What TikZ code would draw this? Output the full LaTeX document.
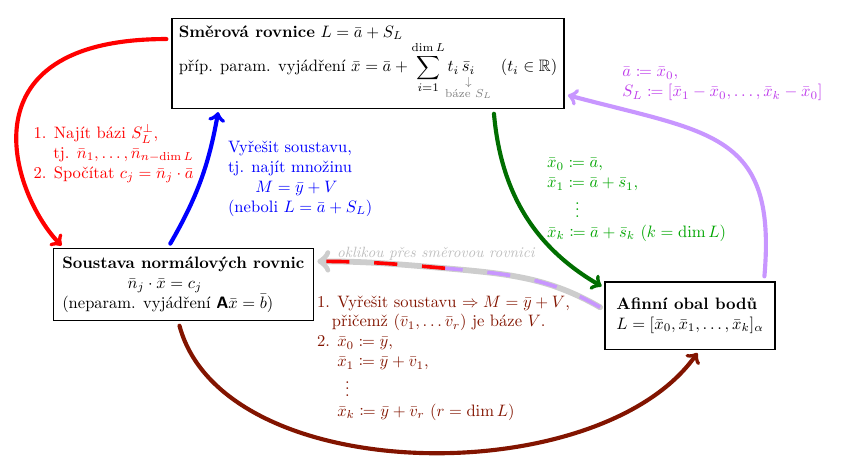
\documentclass[tikz,border=0pt]{standalone}
\usepackage{mathtools}
\usepackage{amssymb}
\usepackage{xcolor}
\usepackage{tikz}
\usetikzlibrary{arrows,calc}

\definecolor{tmavocervena}{RGB}{130,20,0}
\definecolor{zelenatext}{RGB}{0,165,0}
\definecolor{zelena}{RGB}{0,110,0}
\definecolor{fialovatext}{RGB}{190,60,235}
\definecolor{fialova}{RGB}{200,150,255}
\definecolor{seda}{RGB}{205,205,205}

\begin{document}
\begin{tikzpicture}[
        box/.style={draw,thick,align=left,inner sep=0pt},
        popis/.style={anchor=north west,align=left,inner sep=0pt},
        sipka/.style={->,line width=2.5pt,line cap=round,shorten >=2pt,shorten <=3pt},
        carky/.style={line width=2.2pt,dash pattern=on 14pt off 15pt}]
        \useasboundingbox (0,0) rectangle (18.09,10.06);
        % tri popisy soustav
        \node[box,minimum width=8.334cm,minimum height=1.913cm] (smer) at (7.824,8.717)
            {\textbf{Směrová rovnice} $L=\bar a+S_L$\\
             příp. param. vyjádření $\bar x=\bar a+\displaystyle\sum_{i=1}^{\dim L} t_i\,\underset{\color{gray}\substack{\downarrow\\ \mathclap{\text{báze }S_L}}}{\bar s_i}\quad\;\;(t_i\in\mathbb{R})$};
        \node[box,minimum width=5.528cm,minimum height=1.524cm] (norm) at (3.897,4.014)
            {\textbf{Soustava normálových rovnic}\\
             \hspace*{39.5pt}$\bar n_j\cdot\bar x=c_j$\\
             (neparam. vyjádření $\textsf{\textbf{A}}\bar x=\bar b$)};
        \node[box,minimum width=3.614cm,minimum height=1.437cm] (afin) at (14.669,3.348)
            {\textbf{Afinní obal bodů}\\
             $L=[\bar x_0,\bar x_1,\dots,\bar x_k]_\alpha$};
        % prechody
        \node[popis,red] (smer2norm) at (0.708,7.420)
            {1. Najít bázi $S_L^\perp$,\\
             \hspace*{12pt}tj. $\bar n_1,\dots,\bar n_{n-\dim L}$\\
             2. Spočítat $c_j=\bar n_j\cdot\bar a$};
        \node[popis,blue] (norm2smer) at (4.841,7.058)
            {Vyřešit soustavu,\\
             tj. najít množinu\\
             \hspace*{16.5pt}$M=\bar y+V$\\
             (neboli $L=\bar a+S_L$)};
        \node[popis,zelenatext] (smer2afin) at (11.623,6.697)
            {$\bar x_0\coloneqq\bar a$,\\
             $\bar x_1\coloneqq\bar a+\bar s_1$,\\
             \hspace*{17pt}$\vdots$\\
             $\bar x_k\coloneqq\bar a+\bar s_k$ ($k=\dim L$)};
        \node[popis,fialovatext] (afin2smer) at (13.224,8.632)
            {$\bar a\coloneqq\bar x_0$,\\
             $S_L\coloneqq[\bar x_1-\bar x_0,\dots,\bar x_k-\bar x_0]$};
        \node[popis,tmavocervena] (norm2afin) at (6.733,3.784)
            {1. Vyřešit soustavu $\Rightarrow M=\bar y+V$,\\
             \hspace*{9pt}přičemž $(\bar v_1,\dots\bar v_r)$ je báze $V$.\\
             2. $\bar x_0\coloneqq\bar y$,\\
             \phantom{2. }$\bar x_1\coloneqq\bar y+\bar v_1$,\\
             \hspace*{17pt}$\vdots$\\
             \phantom{2. }$\bar x_k\coloneqq\bar y+\bar v_r$ ($r=\dim L$)};
        \coordinate (okl) at (9.461,4.358);
        \node[anchor=base,black!25,inner sep=0pt] (oklikou) at (9.265,4.577) {\small\itshape oklikou přes směrovou rovnici};
        % sipky
        \draw[sipka,red] (smer.173) to[out=180,in=135,out distance=4.57cm,in distance=1.5cm] (norm.163);
        \draw[sipka,blue] (norm.113) to[out=60,in=-100] (smer.197);
        \draw[sipka,zelena] (smer.340) to[out=-85,in=150] (afin.162);
        \draw[sipka,fialova] (afin.25) to[out=85,in=-15,out distance=3.2cm,in distance=3.2cm] (smer.351);
        \draw[sipka,tmavocervena] (norm.262) to[out=-75,in=-125,looseness=0.85] (afin.285);
        \draw[sipka,seda,line width=3.5pt] (afin.176) to[out=150,in=-5] (okl) to[out=175,in=0] (norm.10);
        \draw[carky,fialova,shorten <=3pt] (afin.176) to[out=150,in=-5] (okl);
        \draw[carky,red,shorten >=4pt] (okl) to[out=175,in=0] (norm.10);
    \end{tikzpicture}
\end{document}
